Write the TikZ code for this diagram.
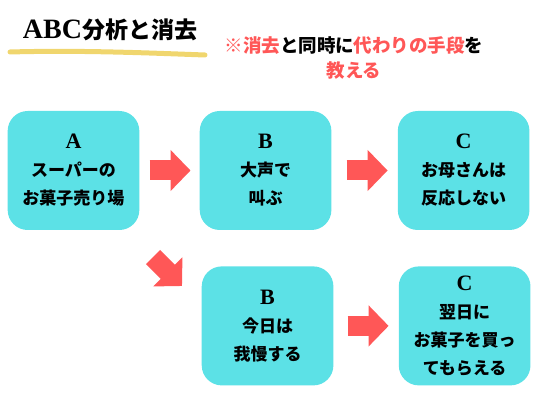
\documentclass[tikz,border=0pt]{standalone}
\usepackage{fontspec}
\setmainfont{Liberation Serif}
\newfontfamily\jpfont{Noto Sans CJK JP}
\usetikzlibrary{arrows.meta,positioning}
\definecolor{Cyan}{HTML}{5CE1E6}
\definecolor{Coral}{HTML}{FF5757}
\definecolor{Marker}{HTML}{F0D66E}
\newcommand{\latinlbl}[1]{{\rmfamily\bfseries\fontsize{22}{28}\selectfont #1}}

\begin{document}
\begin{tikzpicture}[
    x=1pt, y=-1pt,
    box/.style={
      fill=Cyan, rounded corners=20pt,
      minimum width=131pt, minimum height=119pt, text width=125pt, align=center,
      font=\jpfont\bfseries\fontsize{17}{28}\selectfont
    },
    blockarr/.style={-{Triangle[length=20pt,width=40pt]}, line width=20pt, draw=Coral}
  ]
    \useasboundingbox (0,0) rectangle (542,404);

    % title
    \draw[Marker, line width=5pt, line cap=round] (10,52) .. controls (80,50) and (150,53) .. (205,55);
    \node[font=\jpfont\bfseries\fontsize{23}{28}\selectfont] (title) at (110,30)
      {{\rmfamily\bfseries\fontsize{28}{28}\selectfont ABC}分析と消去};
    \node[font=\jpfont\bfseries\fontsize{18.5}{25}\selectfont, align=center] (note) at (354,58)
      {\textcolor{Coral}{※消去}と同時に\textcolor{Coral}{代わりの手段}を\\\textcolor{Coral}{教える}};

    % boxes
    \node[box] (A) at (73.5,170.5) {\latinlbl{A}\\スーパーの\\お菓子売り場};
    \node[box,right=60pt of A] (B) {\latinlbl{B}\\大声で\\叫ぶ};
    \node[box,right=66pt of B] (C) {\latinlbl{C}\\お母さんは\\反応しない};
    \node[box,below=36pt of B,xshift=2pt] (B2) {\latinlbl{B}\\今日は\\我慢する};
    \node[box,right=65pt of B2] (C2) {\latinlbl{C}\\翌日に\\お菓子を買っ\\てもらえる};

    \coordinate (d1) at (153,257);
    \coordinate (d2) at (182,286);

    \draw[blockarr, shorten <=10pt, shorten >=9pt] (A) -- (B);
    \draw[blockarr, shorten <=15pt, shorten >=10pt] (B) -- (C);
    \draw[blockarr, shorten <=14pt, shorten >=10pt] (B2) -- (C2);
    \draw[blockarr] (d1) -- (d2);
  \end{tikzpicture}
\end{document}
